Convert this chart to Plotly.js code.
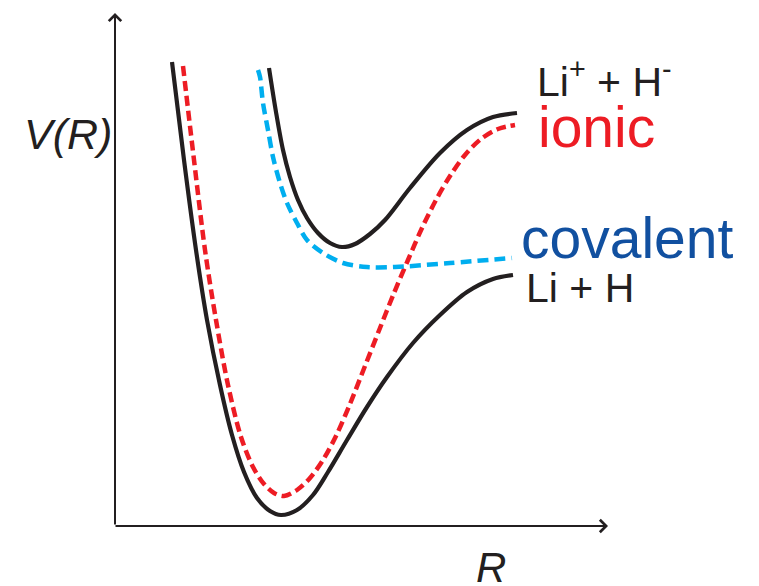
<!DOCTYPE html>
<html>
<head>
<meta charset="utf-8">
<script src="https://cdn.plot.ly/plotly-3.0.1.min.js"></script>
<style>html,body{margin:0;padding:0;background:#fff;}#chart{width:759px;height:586px;}</style>
</head>
<body>
<div id="chart"></div>
<script>
// Potential energy curves V(R) (arbitrary units, origin at axes corner)
const groundR = [57,69,81,92,105,117,129,142,155,166,182,198,213,232,252,272,298,325,352,378,398];
const groundV = [464,366,276,206,141,91,54,28,15,11,16,31,54,86,119,149,183,211,234,247,251];

const ionicR = [68,79,90,101,113,126,138,149,159,169,182,195,208,221,235,250,265,279,293,307,321,335,350,366,383,400];
const ionicV = [460,366,276,206,141,89,59,42,33,30,36,48,66,90,122,160,198,233,266,298,326,350,371,387,397,401];

const excitedR = [154,161,168,175,183,192,203,215,227,240,255,270,295,325,352,378,402];
const excitedV = [458,414,376,349,326,308,293,283,279,282,292,306,338,373,396,409,413];

const covalentR = [143,145,148,153,158,165,172,182,192,208,228,252,280,335,397];
const covalentV = [456,449,423,396,369,343,323,303,286,273,263,259,259,263,268];

// Axis extents
const axisRmax = 493;
const axisVmax = 513;

// Labels
const labelTexts = ['<i>V(R)</i>', '<i>R</i>', 'Li<sup>+</sup> + H<sup>-</sup>', 'ionic', 'covalent', 'Li + H'];
const labelR = [-93, 359, 420, 421, 404, 409];
const labelV = [392, -41, 447, 399, 288, 238];
const labelSize = [43, 42, 41, 57, 57, 41];
const labelColor = ['#231f20', '#231f20', '#231f20', '#ed1c24', '#1150a0', '#231f20'];

const BLACK = '#231f20';
const traces = [
  {x: groundR, y: groundV, mode: 'lines', line: {color: BLACK, width: 4.2, shape: 'spline', smoothing: 0.9}},
  {x: excitedR, y: excitedV, mode: 'lines', line: {color: BLACK, width: 4.2, shape: 'spline', smoothing: 0.9}},
  {x: ionicR, y: ionicV, mode: 'lines', line: {color: '#ed1c24', width: 4.5, dash: '10px,5px', shape: 'spline', smoothing: 0.9}},
  {x: covalentR, y: covalentV, mode: 'lines', line: {color: '#00aeef', width: 4.5, dash: '11px,6px', shape: 'spline', smoothing: 0.9}}
];

const annotations = [
  {x: 0, y: axisVmax, ax: 0, ay: 0, xref: 'x', yref: 'y', axref: 'x', ayref: 'y', text: '', showarrow: true,
   arrowhead: 4, arrowsize: 1.2, arrowwidth: 2, arrowcolor: BLACK, standoff: 0, startstandoff: 0},
  {x: axisRmax, y: 0, ax: -1, ay: 0, xref: 'x', yref: 'y', axref: 'x', ayref: 'y', text: '', showarrow: true,
   arrowhead: 4, arrowsize: 1.2, arrowwidth: 2, arrowcolor: BLACK, standoff: 0, startstandoff: 0}
];
labelTexts.forEach((t, i) => {
  annotations.push({x: labelR[i], y: labelV[i], xref: 'x', yref: 'y', text: t, showarrow: false,
    xanchor: 'left', yanchor: 'middle',
    font: {family: 'Liberation Sans, Arial, sans-serif', size: labelSize[i], color: labelColor[i]}});
});

const layout = {
  width: 759, height: 586,
  margin: {l: 0, r: 0, t: 0, b: 0},
  paper_bgcolor: '#ffffff', plot_bgcolor: '#ffffff',
  showlegend: false,
  xaxis: {range: [-115, 644], visible: false, fixedrange: true},
  yaxis: {range: [-60, 526], visible: false, fixedrange: true},
  annotations: annotations
};

Plotly.newPlot('chart', traces, layout, {staticPlot: true, displayModeBar: false});
</script>
</body>
</html>
